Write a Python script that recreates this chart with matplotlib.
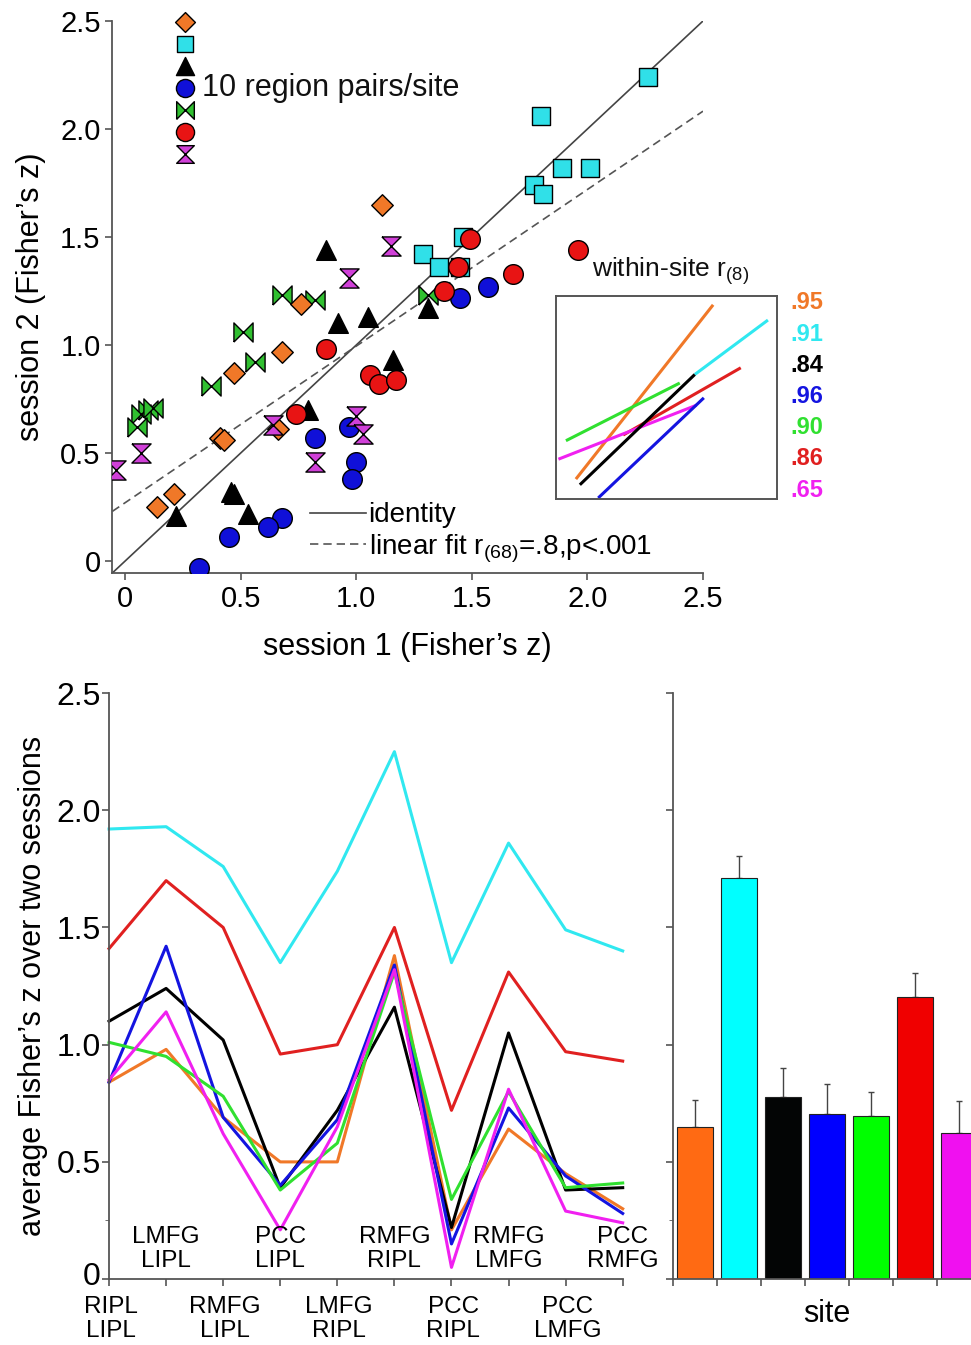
import matplotlib
matplotlib.use('Agg')
import matplotlib.pyplot as plt
import matplotlib.transforms as mtransforms
from matplotlib.lines import Line2D
import numpy as np

plt.rcParams['font.family'] = ['Liberation Sans', 'DejaVu Sans']
plt.rcParams['mathtext.fontset'] = 'custom'
plt.rcParams['mathtext.rm'] = 'Liberation Sans'
plt.rcParams['mathtext.it'] = 'Liberation Sans:italic'

# sites, in drawing / legend order
site_colors = ['#F07828', '#30E0E8', '#000000', '#1010D8', '#30C030', '#E81414', '#D040D8']
line_colors = ['#F07828', '#30E8F0', '#000000', '#1414E0', '#30E030', '#E02020', '#F020F0']
bar_colors = ['#FF6A13', '#00FFFF', '#030505', '#0000FF', '#00FF00', '#F00000', '#F010F0']

# session 1 / session 2 Fisher's z, one point per region pair
orange_s1 = [1.11, 0.76, 0.68, 0.47, 0.41, 0.43, 0.66, 0.21, 0.14]
orange_s2 = [1.65, 1.19, 0.97, 0.87, 0.57, 0.56, 0.61, 0.31, 0.25]
cyan_s1 = [2.26, 1.80, 1.77, 1.81, 1.89, 2.01, 1.29, 1.36, 1.46, 1.45]
cyan_s2 = [2.24, 2.06, 1.74, 1.70, 1.82, 1.82, 1.42, 1.36, 1.50, 1.36]
black_s1 = [0.87, 0.92, 1.05, 1.16, 1.31, 0.79, 0.46, 0.47, 0.53, 0.22]
black_s2 = [1.44, 1.10, 1.13, 0.93, 1.17, 0.70, 0.32, 0.31, 0.22, 0.21]
blue_s1 = [1.45, 1.57, 0.82, 0.97, 1.00, 0.98, 0.68, 0.62, 0.45, 0.32]
blue_s2 = [1.22, 1.27, 0.57, 0.62, 0.46, 0.38, 0.20, 0.16, 0.11, -0.03]
green_s1 = [0.68, 0.82, 0.51, 0.56, 0.37, 0.10, 0.07, 0.05, 0.12, 1.31]
green_s2 = [1.23, 1.21, 1.06, 0.92, 0.81, 0.70, 0.68, 0.62, 0.71, 1.23]
red_s1 = [1.49, 1.44, 1.38, 0.87, 1.06, 1.10, 1.17, 0.74, 1.68, 1.96]
red_s2 = [1.49, 1.36, 1.25, 0.98, 0.86, 0.82, 0.84, 0.68, 1.33, 1.44]
magenta_s1 = [1.15, 0.97, 0.64, 1.00, 1.03, 0.82, 0.07, -0.04]
magenta_s2 = [1.46, 1.31, 0.63, 0.67, 0.59, 0.46, 0.50, 0.42]

fit_intercept = 0.27
fit_slope = 0.725

# within-site fits shown in the inset (inset units)
inset_x0 = [0.09, 0.628, 0.108, 0.191, 0.045, 0.304, 0.011]
inset_y0 = [0.098, 0.613, 0.07, 0.005, 0.287, 0.315, 0.196]
inset_x1 = [0.711, 0.959, 0.628, 0.669, 0.56, 0.836, 0.636]
inset_y1 = [0.956, 0.881, 0.613, 0.498, 0.571, 0.646, 0.462]
within_r = ['.95', '.91', '.84', '.96', '.90', '.86', '.65']

# average z over two sessions per region pair
pair_labels = ['RIPL\nLIPL', 'LMFG\nLIPL', 'RMFG\nLIPL', 'PCC\nLIPL', 'LMFG\nRIPL',
               'RMFG\nRIPL', 'PCC\nRIPL', 'RMFG\nLMFG', 'PCC\nLMFG', 'PCC\nRMFG']
orange_z = [0.84, 0.98, 0.69, 0.50, 0.50, 1.38, 0.21, 0.64, 0.45, 0.30]
cyan_z = [1.92, 1.93, 1.76, 1.35, 1.74, 2.25, 1.35, 1.86, 1.49, 1.40]
black_z = [1.10, 1.24, 1.02, 0.39, 0.72, 1.16, 0.22, 1.05, 0.38, 0.39]
blue_z = [0.84, 1.42, 0.69, 0.40, 0.68, 1.34, 0.15, 0.73, 0.44, 0.28]
green_z = [1.01, 0.95, 0.78, 0.38, 0.58, 1.31, 0.34, 0.80, 0.39, 0.41]
red_z = [1.41, 1.70, 1.50, 0.96, 1.00, 1.50, 0.72, 1.31, 0.97, 0.93]
magenta_z = [0.85, 1.14, 0.62, 0.21, 0.65, 1.32, 0.05, 0.81, 0.29, 0.24]

# site means and upper error
site_means = [0.65, 1.71, 0.776, 0.704, 0.695, 1.204, 0.623]
site_errs = [0.114, 0.095, 0.124, 0.13, 0.105, 0.10, 0.135]

bowtie = [(-1, -1), (-1, 1), (1, -1), (1, 1), (-1, -1)]
hourglass = [(-1, 1), (1, 1), (-1, -1), (1, -1), (-1, 1)]
markers = ['D', 's', '^', 'o', bowtie, 'o', hourglass]
msizes = [120, 170, 200, 200, 190, 200, 190]

s1_all = [orange_s1, cyan_s1, black_s1, blue_s1, green_s1, red_s1, magenta_s1]
s2_all = [orange_s2, cyan_s2, black_s2, blue_s2, green_s2, red_s2, magenta_s2]
z_all = [orange_z, cyan_z, black_z, blue_z, green_z, red_z, magenta_z]

spine_c = '#555555'

def style_axes(ax):
    for s in ['top', 'right']:
        ax.spines[s].set_visible(False)
    for s in ['left', 'bottom']:
        ax.spines[s].set_color(spine_c)
        ax.spines[s].set_linewidth(1.3)
    ax.tick_params(direction='out', length=5, width=1.2, color=spine_c, labelsize=20)

fig = plt.figure(figsize=(9.71, 13.45), dpi=100)

# ---------- top: session 1 vs session 2 ----------
ax1 = fig.add_axes([0.1157, 0.574, 0.6083, 0.4104])
style_axes(ax1)
ax1.set_xlim(-0.055, 2.5)
ax1.set_ylim(-0.055, 2.5)
ticks = [0, 0.5, 1.0, 1.5, 2.0, 2.5]
tlabels = ['0', '0.5', '1.0', '1.5', '2.0', '2.5']
ax1.set_xticks(ticks, tlabels)
ax1.set_yticks(ticks, tlabels)
ax1.tick_params(labelsize=21)

ax1.axline((0, 0), slope=1, color='#444444', lw=1.2, zorder=1)
ax1.axline((0, fit_intercept), slope=fit_slope, color='#555555', lw=1.2, ls=(0, (5, 3)), zorder=1)

draw_order = [1, 4, 0, 2, 3, 5, 6]
for i in draw_order:
    ax1.scatter(s1_all[i], s2_all[i], s=msizes[i], marker=markers[i], c=site_colors[i],
                edgecolors='black', linewidths=1.0, zorder=3)

# marker key, top left
for i in range(7):
    ax1.scatter(0.123, 0.998 - i * 0.0399, s=msizes[i] * 0.85, marker=markers[i], c=site_colors[i],
                edgecolors='black', linewidths=1.0, transform=ax1.transAxes, clip_on=False, zorder=4)
ax1.text(0.152, 0.879, '10 region pairs/site', transform=ax1.transAxes, fontsize=22,
         va='center', ha='left', color='#111111')

ax1.legend(handles=[Line2D([], [], color='#444444', lw=1.2),
                    Line2D([], [], color='#555555', lw=1.2, ls=(0, (5, 3)))],
           labels=['identity', 'linear fit r$_{\\mathrm{(68)}}$=.8,p<.001'],
           loc='lower left', bbox_to_anchor=(0.335, 0.015), frameon=False, fontsize=20,
           handlelength=2.0, handletextpad=0.1, labelspacing=0.15, borderpad=0, borderaxespad=0)

ax1.set_xlabel('session 1 (Fisher’s z)', fontsize=22, labelpad=14)
ax1.set_ylabel('session 2 (Fisher’s z)', fontsize=22, labelpad=10)

# inset with within-site fits
axin = fig.add_axes([0.5726, 0.629, 0.2276, 0.151])
axin.set_xlim(0, 1)
axin.set_ylim(0, 1)
axin.set_xticks([])
axin.set_yticks([])
for s in axin.spines.values():
    s.set_color('#555555')
    s.set_linewidth(1.4)
inset_order = [1, 0, 4, 5, 6, 2, 3]
for i in inset_order:
    axin.plot([inset_x0[i], inset_x1[i]], [inset_y0[i], inset_y1[i]], color=line_colors[i],
              lw=2.2, solid_capstyle='butt', clip_on=False)
for i, r in enumerate(within_r):
    axin.text(1.06, 0.966 - i * 0.1537, r, transform=axin.transAxes, color=line_colors[i],
              fontsize=17, fontweight='bold', va='center', ha='left')
axin.text(0.163, 1.12, 'within-site r$_{\\mathrm{(8)}}$', transform=axin.transAxes, fontsize=19,
          va='center', ha='left', color='#111111')

# ---------- bottom left: z per region pair ----------
ax2 = fig.add_axes([0.1123, 0.049, 0.529, 0.4357])
style_axes(ax2)
ax2.set_xlim(0, 9)
ax2.set_ylim(0, 2.5)
ax2.set_yticks(ticks, tlabels)
ax2.set_yticks([0.25], minor=True)
ax2.tick_params(axis='y', which='minor', length=3, color=spine_c)
ax2.tick_params(labelsize=23)
ax2.tick_params(axis='y', pad=1)
# lift the "0" label a little so it clears the pair name below it
zero_lab = ax2.get_yticklabels()[0]
zero_lab.set_transform(zero_lab.get_transform()
                       + mtransforms.ScaledTranslation(0, 4 / 72, fig.dpi_scale_trans))
ax2.set_xticks(range(len(pair_labels)), [''] * len(pair_labels))
xs = np.arange(len(pair_labels))
line_order = [0, 1, 5, 2, 3, 4, 6]
for i in line_order:
    ax2.plot(xs, z_all[i], color=line_colors[i], lw=2.2, clip_on=False)
for k, lab in enumerate(pair_labels):
    if k % 2 == 0:
        ax2.text(k + 0.03, -0.073, lab, ha='center', va='top', fontsize=17.5, linespacing=1.1,
                 clip_on=False)
    else:
        ax2.text(k, 0.03, lab, ha='center', va='bottom', fontsize=17.5, linespacing=1.1,
                 clip_on=False)
ax2.set_ylabel('average Fisher’s z over two sessions', fontsize=22, labelpad=6)

# ---------- bottom right: site means ----------
ax3 = fig.add_axes([0.6931, 0.049, 0.3172, 0.4357])
style_axes(ax3)
ax3.set_xlim(-0.5, 6.5)
ax3.set_ylim(0, 2.5)
ax3.set_yticks(ticks, [''] * len(ticks))
ax3.set_yticks([0.25], minor=True)
ax3.tick_params(axis='y', which='minor', length=3, color=spine_c)
ax3.set_xticks(np.arange(-0.5, 7, 1), [''] * 8)
bx = np.arange(len(site_means))
ax3.bar(bx, site_means, width=0.8, color=bar_colors, edgecolor='#222222', linewidth=0.8, zorder=2)
ax3.errorbar(bx, site_means, yerr=[np.zeros(len(site_errs)), site_errs], fmt='none',
             ecolor='#444444', elinewidth=1.0, capsize=2, capthick=1.0, zorder=1)
ax3.set_xlabel('site', fontsize=22, labelpad=6)

plt.savefig('out.png', dpi=100)
